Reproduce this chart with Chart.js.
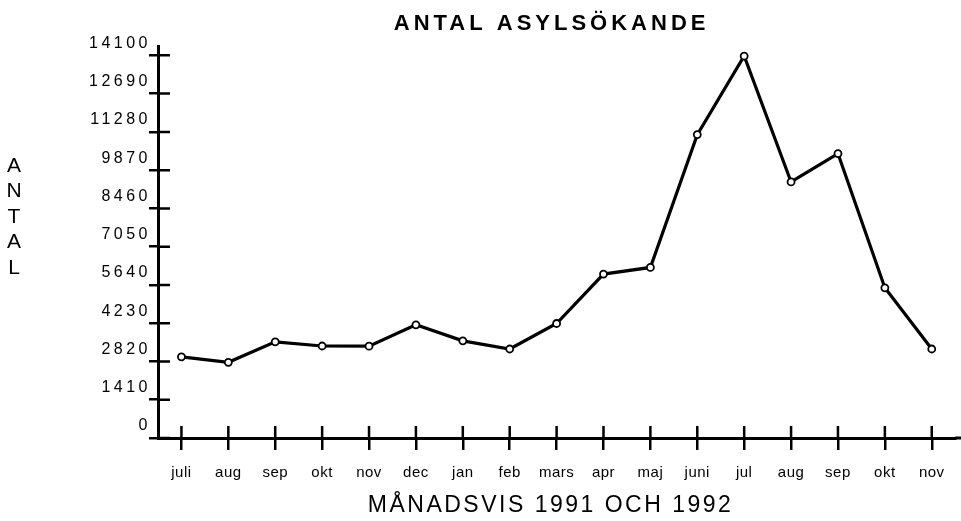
<!DOCTYPE html>
<html><head><meta charset="utf-8">
<script src="https://cdn.jsdelivr.net/npm/chart.js@4.4.1/dist/chart.umd.min.js"></script>
<style>html,body{margin:0;padding:0;background:#fff;overflow:hidden}canvas{display:block}</style>
</head><body>
<canvas id="c" width="961" height="521"></canvas>
<script>
const months = ['juli','aug','sep','okt','nov','dec','jan','feb','mars','apr','maj','juni','jul','aug','sep','okt','nov'];
const applicants = [2990,2790,3545,3390,3385,4170,3580,3280,4220,6040,6285,11180,14075,9435,10480,5535,3280];
const yTickValues = [0,1410,2820,4230,5640,7050,8460,9870,11280,12690,14100];
const chartTitle = 'ANTAL ASYLSÖKANDE';
const xAxisTitle = 'MÅNADSVIS 1991 OCH 1992';
const yAxisTitle = 'ANTAL';
const FONT = "'Liberation Sans', Arial, Helvetica, sans-serif";

function spaced(obj, method, sp, dx) {
  if (!obj || !obj[method] || obj[method].__sp) return;
  const orig = obj[method];
  const f = function(...args) {
    const ctx = this.ctx;
    const prev = ctx.letterSpacing;
    ctx.save();
    if (dx) ctx.translate(dx, 0);
    ctx.letterSpacing = sp;
    try { return orig.apply(this, args); } finally { ctx.restore(); ctx.letterSpacing = prev; }
  };
  f.__sp = true;
  obj[method] = f;
}

const tweaks = {
  id: 'tweaks',
  beforeDraw(chart) {
    const ctx = chart.ctx;
    ctx.save(); ctx.fillStyle = '#fff'; ctx.fillRect(0, 0, chart.width, chart.height); ctx.restore();
    spaced(chart.scales.y, 'drawLabels', '3.5px', 0);
    spaced(chart.scales.x, 'drawLabels', '0.5px', 0);
    spaced(chart.scales.x, 'drawTitle', '2.5px', -6);
    spaced(chart.titleBlock, 'draw', '4px', -5);
  },
  afterDraw(chart) {
    const {ctx, chartArea: a, scales: {x, y}} = chart;
    ctx.save();
    ctx.strokeStyle = '#000'; ctx.lineWidth = 2.5; ctx.lineCap = 'butt';
    ctx.beginPath();
    y.ticks.forEach(t => { const py = y.getPixelForValue(t.value); ctx.moveTo(a.left, py); ctx.lineTo(a.left + 12, py); });
    x.ticks.forEach((t, i) => { const px = x.getPixelForTick(i); ctx.moveTo(px, a.bottom); ctx.lineTo(px, a.bottom - 12); });
    ctx.stroke();
    ctx.lineWidth = 3;
    ctx.beginPath(); ctx.moveTo(a.right, a.bottom); ctx.lineTo(chart.width, a.bottom); ctx.stroke();
    ctx.fillStyle = '#000'; ctx.font = '21px ' + FONT; ctx.textAlign = 'center'; ctx.textBaseline = 'middle';
    [...yAxisTitle].forEach((ch, i) => ctx.fillText(ch, 14, 166 + i * 25.5));
    ctx.restore();
  }
};

new Chart(document.getElementById('c'), {
  type: 'line',
  data: {
    labels: months,
    datasets: [{
      data: applicants,
      borderColor: '#000', borderWidth: 3.2, tension: 0,
      pointStyle: 'circle', pointRadius: 3.5, pointBorderWidth: 1.8,
      pointBackgroundColor: '#fff', pointBorderColor: '#000'
    }]
  },
  options: {
    responsive: false,
    animation: false,
    layout: {padding: {left: 0, right: 4, top: 0, bottom: 0}},
    plugins: {
      legend: {display: false},
      tooltip: {enabled: false},
      title: {
        display: true, text: chartTitle, color: '#000', fullSize: false,
        font: {family: FONT, size: 22, weight: 'bold'},
        padding: {top: 11, bottom: 9}
      }
    },
    scales: {
      x: {
        offset: true,
        afterFit: s => { s.height = 83; },
        border: {display: true, color: '#000', width: 3},
        grid: {drawOnChartArea: false, drawTicks: true, tickLength: 12, color: '#000', lineWidth: 2.5, offset: false},
        ticks: {color: '#000', font: {family: FONT, size: 15}, padding: 14, autoSkip: false, maxRotation: 0},
        title: {display: true, text: xAxisTitle, color: '#000', font: {family: FONT, size: 23}, padding: {top: 0, bottom: 2}}
      },
      y: {
        min: 0, max: 14430,
        afterBuildTicks: s => { s.ticks = yTickValues.map(v => ({value: v})); },
        afterFit: s => { s.width = 158; },
        border: {display: true, color: '#000', width: 3},
        grid: {drawOnChartArea: false, drawTicks: true, tickLength: 9, color: '#000', lineWidth: 2.5},
        ticks: {color: '#000', font: {family: FONT, size: 16}, padding: -2, labelOffset: -12, callback: v => String(v)}
      }
    }
  },
  plugins: [tweaks]
});
</script>
</body></html>
